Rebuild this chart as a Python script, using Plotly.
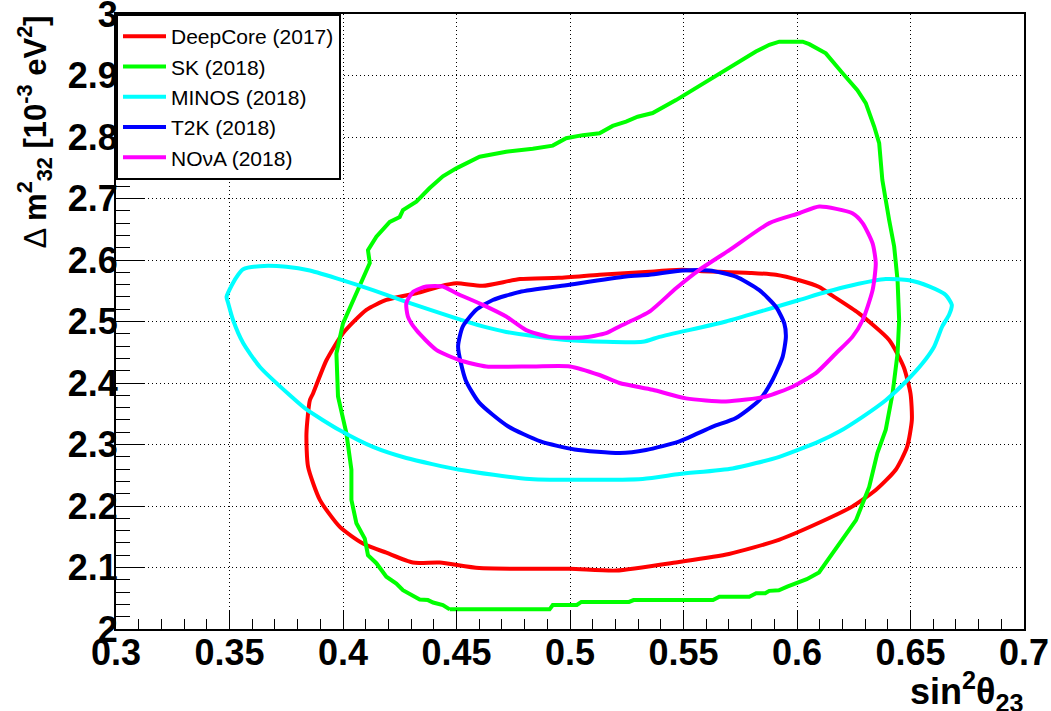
import plotly.graph_objects as go

# ---------------- data ----------------
series_names = ["DeepCore (2017)", "SK (2018)", "MINOS (2018)", "T2K (2018)", "NOνA (2018)"]
series_colors = ["#FF0000", "#00FF00", "#00FFFF", "#0000FF", "#FF00FF"]

deepcore_x = [0.3846, 0.3839, 0.3854, 0.3868, 0.3927, 0.4000, 0.4103, 0.4191, 0.4323, 0.4426, 0.4500,
              0.4615, 0.4780, 0.4950, 0.5130, 0.5350, 0.5495, 0.5570, 0.5800, 0.5907, 0.6010, 0.6098,
              0.6156, 0.6270, 0.6406, 0.6470, 0.6500, 0.6506, 0.6485, 0.6435, 0.6347, 0.6243, 0.6140,
              0.5920, 0.5700, 0.5480, 0.5203, 0.4998, 0.4600, 0.4426, 0.4308, 0.4191, 0.4088, 0.3986,
              0.3898, 0.3846]
deepcore_y = [2.264, 2.318, 2.372, 2.383, 2.437, 2.481, 2.519, 2.535, 2.546, 2.557, 2.562,
              2.558, 2.569, 2.571, 2.576, 2.581, 2.584, 2.582, 2.579, 2.576, 2.567, 2.556,
              2.542, 2.514, 2.470, 2.426, 2.383, 2.340, 2.296, 2.259, 2.226, 2.199, 2.180,
              2.145, 2.122, 2.109, 2.095, 2.098, 2.099, 2.108, 2.108, 2.124, 2.139, 2.166,
              2.210, 2.264]

sk_x = [0.4470, 0.4910, 0.4924, 0.5030, 0.5050, 0.5260, 0.5280, 0.5630, 0.5658, 0.5790, 0.5820,
        0.5860, 0.5878, 0.5920, 0.5957, 0.5996, 0.6043, 0.6097, 0.6136, 0.6260, 0.6318, 0.6354,
        0.6391, 0.6421, 0.6443, 0.6450, 0.6443, 0.6428, 0.6406, 0.6376, 0.6362, 0.6340, 0.6303,
        0.6266, 0.6200, 0.6127, 0.6054, 0.6025, 0.5922, 0.5878, 0.5819, 0.5614, 0.5467, 0.5364,
        0.5298, 0.5247, 0.5188, 0.5130, 0.5056, 0.4983, 0.4924, 0.4836, 0.4719, 0.4602, 0.4543,
        0.4499, 0.4440, 0.4382, 0.4323, 0.4264, 0.4250, 0.4206, 0.4147, 0.4110, 0.4118, 0.4074,
        0.4000, 0.3971, 0.3978, 0.4015, 0.4037, 0.4037, 0.4059, 0.4096, 0.4110, 0.4147, 0.4191,
        0.4235, 0.4264, 0.4338, 0.4374, 0.4397, 0.4440, 0.4470]
sk_y = [2.032, 2.032, 2.039, 2.039, 2.044, 2.044, 2.047, 2.047, 2.0525, 2.0525, 2.058,
        2.058, 2.062, 2.063, 2.069, 2.075, 2.081, 2.092, 2.112, 2.177, 2.231, 2.286,
        2.324, 2.383, 2.448, 2.502, 2.567, 2.622, 2.665, 2.730, 2.790, 2.817, 2.855,
        2.876, 2.904, 2.936, 2.951, 2.955, 2.955, 2.950, 2.939, 2.893, 2.860, 2.839,
        2.833, 2.825, 2.818, 2.806, 2.803, 2.798, 2.786, 2.781, 2.776, 2.768, 2.757,
        2.749, 2.736, 2.717, 2.695, 2.681, 2.670, 2.662, 2.638, 2.616, 2.595, 2.557,
        2.497, 2.448, 2.378, 2.318, 2.259, 2.210, 2.172, 2.147, 2.120, 2.107, 2.085,
        2.074, 2.063, 2.048, 2.047, 2.043, 2.039, 2.032]

minos_x = [0.3487, 0.3510, 0.3538, 0.3560, 0.3634, 0.3751, 0.3854, 0.4000, 0.4132, 0.4279, 0.4499,
           0.4616, 0.4719, 0.4983, 0.5320, 0.5394, 0.5687, 0.5863, 0.6010, 0.6127, 0.6244, 0.6391,
           0.6494, 0.6582, 0.6655, 0.6682, 0.6670, 0.6640, 0.6604, 0.6553, 0.6479, 0.6391, 0.6289,
           0.6186, 0.6098, 0.5922, 0.5716, 0.5482, 0.5320, 0.4822, 0.4514, 0.4279, 0.4132, 0.3986,
           0.3839, 0.3766, 0.3634, 0.3560, 0.3516, 0.3494, 0.3487]
minos_y = [2.540, 2.559, 2.576, 2.585, 2.590, 2.589, 2.583, 2.567, 2.551, 2.532, 2.505,
           2.492, 2.483, 2.470, 2.467, 2.475, 2.500, 2.519, 2.535, 2.548, 2.559, 2.569,
           2.567, 2.557, 2.543, 2.527, 2.511, 2.492, 2.459, 2.432, 2.402, 2.372, 2.345,
           2.321, 2.305, 2.280, 2.261, 2.252, 2.244, 2.244, 2.259, 2.278, 2.296, 2.323,
           2.357, 2.380, 2.426, 2.465, 2.502, 2.530, 2.540]

t2k_x = [0.4507, 0.4528, 0.4587, 0.4660, 0.4778, 0.4983, 0.5247, 0.5350, 0.5496, 0.5614, 0.5731,
         0.5834, 0.5907, 0.5944, 0.5951, 0.5937, 0.5892, 0.5834, 0.5731, 0.5629, 0.5482, 0.5335,
         0.5220, 0.5020, 0.4870, 0.4725, 0.4600, 0.4540, 0.4507]
t2k_y = [2.459, 2.492, 2.519, 2.535, 2.548, 2.559, 2.573, 2.576, 2.583, 2.583, 2.573,
         2.551, 2.524, 2.497, 2.475, 2.443, 2.405, 2.372, 2.343, 2.329, 2.305, 2.291,
         2.286, 2.292, 2.305, 2.330, 2.368, 2.405, 2.459]

nova_x = [0.4279, 0.4308, 0.4367, 0.4440, 0.4499, 0.4616, 0.4719, 0.4807, 0.4910, 0.5056, 0.5159,
          0.5218, 0.5350, 0.5467, 0.5570, 0.5702, 0.5878, 0.6010, 0.6098, 0.6244, 0.6289, 0.6333,
          0.6347, 0.6333, 0.6289, 0.6244, 0.6171, 0.6083, 0.5980, 0.5863, 0.5687, 0.5511, 0.5364,
          0.5218, 0.5130, 0.5000, 0.4836, 0.4631, 0.4514, 0.4411, 0.4323, 0.4286, 0.4279]
nova_y = [2.530, 2.548, 2.557, 2.557, 2.546, 2.527, 2.508, 2.486, 2.475, 2.474, 2.481,
          2.492, 2.516, 2.554, 2.584, 2.616, 2.660, 2.676, 2.687, 2.676, 2.660, 2.627,
          2.595, 2.551, 2.502, 2.475, 2.448, 2.416, 2.394, 2.378, 2.370, 2.375, 2.389,
          2.400, 2.413, 2.427, 2.427, 2.427, 2.437, 2.454, 2.486, 2.508, 2.530]

x_tick_vals = [0.3, 0.35, 0.4, 0.45, 0.5, 0.55, 0.6, 0.65, 0.7]
x_tick_labels = ["0.3", "0.35", "0.4", "0.45", "0.5", "0.55", "0.6", "0.65", "0.7"]
y_tick_vals = [2.0, 2.1, 2.2, 2.3, 2.4, 2.5, 2.6, 2.7, 2.8, 2.9, 3.0]
y_tick_labels = ["2", "2.1", "2.2", "2.3", "2.4", "2.5", "2.6", "2.7", "2.8", "2.9", "3"]

# ---------------- figure ----------------
xs = [deepcore_x, sk_x, minos_x, t2k_x, nova_x]
ys = [deepcore_y, sk_y, minos_y, t2k_y, nova_y]
shapes = ["spline", "linear", "spline", "spline", "spline"]

FONT = "Liberation Sans, Arial, sans-serif"

fig = go.Figure()
for name, col, x, y, shp in zip(series_names, series_colors, xs, ys, shapes):
    fig.add_trace(go.Scatter(x=x, y=y, mode="lines", name=name,
                             line=dict(color=col, width=4, shape=shp, smoothing=0.6),
                             hoverinfo="skip"))

axis_common = dict(
    showline=True, linecolor="black", linewidth=2, mirror=True, automargin=False,
    showgrid=True, gridcolor="black", gridwidth=1, griddash="1px,3px",
    zeroline=False, ticks="inside", tickcolor="black", tickwidth=1,
    ticklabeloverflow="allow",
    tickfont=dict(family=FONT, size=36, color="black", weight="bold"),
)

fig.update_layout(
    width=1051, height=711,
    margin=dict(l=116, r=27, t=14, b=82),
    paper_bgcolor="white", plot_bgcolor="white",
    showlegend=True,
    legend=dict(x=0, y=1, xanchor="left", yanchor="top",
                bgcolor="white", bordercolor="black", borderwidth=2,
                itemwidth=43,
                font=dict(family=FONT, size=21, color="black")),
    xaxis=dict(range=[0.3, 0.7], tickvals=x_tick_vals, ticktext=x_tick_labels,
               ticklen=19, ticklabelstandoff=-9, layer="above traces",
               minor=dict(dtick=0.01, ticklen=10, ticks="inside", tickcolor="black", showgrid=False),
               **axis_common),
    yaxis=dict(range=[2.0, 3.0], tickvals=y_tick_vals, ticktext=y_tick_labels,
               ticklen=28, ticklabelstandoff=-11, layer="above traces",
               minor=dict(dtick=0.02, ticklen=14, ticks="inside", tickcolor="black", showgrid=False),
               **axis_common),
)

# axis titles
fig.add_annotation(
    xref="paper", yref="paper", x=1, y=0, xanchor="right", yanchor="top",
    xshift=2, yshift=-35,
    text="<b>sin</b><sup><b>2</b></sup><b>θ</b><sub><b>23</b></sub>",
    showarrow=False, font=dict(family=FONT, size=36, color="black"),
)
fig.add_annotation(
    xref="paper", yref="paper", x=0, y=1, xanchor="center", yanchor="top",
    xshift=-81, yshift=0, textangle=-90,
    text="Δ <b>m</b><sup><b>2</b></sup><sub><b>32</b></sub> <b>[10</b><sup><b>-3</b></sup><b> eV</b><sup><b>2</b></sup><b>]</b>",
    showarrow=False, font=dict(family=FONT, size=31, color="black"),
)

# remove the default 8px page margin so the 1051x711 figure fills the window
fig.write_html("out.html", config={"displayModeBar": False},
               post_script="document.body.style.margin='0px';")
